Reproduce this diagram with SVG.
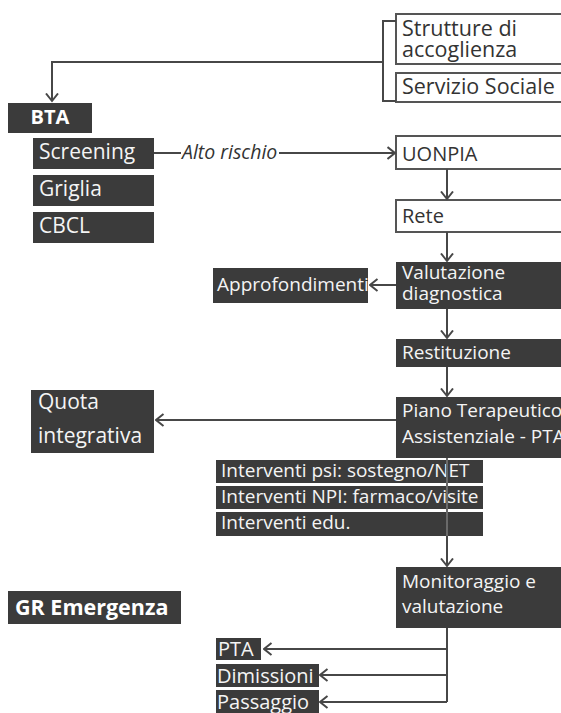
<svg xmlns="http://www.w3.org/2000/svg" width="561" height="713" viewBox="0 0 561 713">
<defs>
<marker id="arr" viewBox="0 0 10 14" refX="8.5" refY="7" markerWidth="10" markerHeight="14" markerUnits="userSpaceOnUse" orient="auto">
<path d="M1,1 L8.5,7 L1,13" fill="none" stroke="#474747" stroke-width="2"/>
</marker>
<style>
.dark{fill:#3b3b3b;}
.light{fill:#ffffff;stroke:#555555;stroke-width:2;}
.tw{fill:#f4f4f4;font-family:"Open Sans","DejaVu Sans",sans-serif;font-size:19px;}
.td{fill:#333333;font-family:"Open Sans","DejaVu Sans",sans-serif;font-size:20px;}
.tb{fill:#ffffff;font-family:"Open Sans","DejaVu Sans",sans-serif;font-size:20px;font-weight:bold;}
.ti{fill:#333333;font-family:"Open Sans","DejaVu Sans",sans-serif;font-size:19.5px;font-style:italic;}
.c{fill:none;stroke:#474747;stroke-width:2;}
.ca{fill:none;stroke:#474747;stroke-width:2;marker-end:url(#arr);}
</style>
</defs>
<rect width="561" height="713" fill="#ffffff"/>

<g id="strutture">
<rect class="light" x="396" y="14" width="175" height="50"/>
<text class="td" x="402" y="36" style="font-size:21.5px">Strutture di</text>
<text class="td" x="402" y="57" style="font-size:21.5px">accoglienza</text>
</g>
<g id="servizio">
<rect class="light" x="396" y="73" width="175" height="29"/>
<text class="td" x="402" y="94" style="font-size:21.5px">Servizio Sociale</text>
</g>
<g id="bta">
<rect class="dark" x="8" y="103" width="84" height="30"/>
<text class="tb" x="50" y="124" text-anchor="middle">BTA</text>
</g>
<g id="screening">
<rect class="dark" x="33" y="138" width="121" height="31"/>
<text class="tw" x="39" y="159" style="font-size:21px">Screening</text>
</g>
<g id="griglia">
<rect class="dark" x="33" y="175" width="121" height="31"/>
<text class="tw" x="39" y="196" style="font-size:21px">Griglia</text>
</g>
<g id="cbcl">
<rect class="dark" x="33" y="212" width="121" height="31"/>
<text class="tw" x="39" y="233" style="font-size:21px">CBCL</text>
</g>
<g id="uonpia">
<rect class="light" x="396" y="136" width="175" height="33"/>
<text class="td" x="402" y="161">UONPIA</text>
</g>
<g id="rete">
<rect class="light" x="396" y="200" width="175" height="32"/>
<text class="td" x="402" y="223">Rete</text>
</g>
<g id="valutazione">
<rect class="dark" x="396" y="262" width="175" height="47"/>
<text class="tw" x="402" y="279">Valutazione</text>
<text class="tw" x="402" y="300">diagnostica</text>
</g>
<g id="approfondimenti">
<rect class="dark" x="213" y="268" width="155" height="35"/>
<text class="tw" x="217" y="291">Approfondimenti</text>
</g>
<g id="restituzione">
<rect class="dark" x="396" y="339" width="175" height="28"/>
<text class="tw" x="402" y="359">Restituzione</text>
</g>
<g id="piano">
<rect class="dark" x="396" y="397" width="175" height="61"/>
<text class="tw" x="402" y="417">Piano Terapeutico</text>
<text class="tw" x="402" y="443">Assistenziale - PTA</text>
</g>
<g id="quota">
<rect class="dark" x="31" y="390" width="123" height="63"/>
<text class="tw" x="38" y="409" style="font-size:21px">Quota</text>
<text class="tw" x="38" y="443" style="font-size:21px">integrativa</text>
</g>
<g id="int-psi">
<rect class="dark" x="216" y="460" width="267" height="23"/>
<text class="tw" x="221" y="477">Interventi psi: sostegno/NET</text>
</g>
<g id="int-npi">
<rect class="dark" x="216" y="486" width="267" height="23"/>
<text class="tw" x="221" y="503">Interventi NPI: farmaco/visite</text>
</g>
<g id="int-edu">
<rect class="dark" x="216" y="512" width="267" height="24"/>
<text class="tw" x="221" y="529">Interventi edu.</text>
</g>
<g id="monitoraggio">
<rect class="dark" x="396" y="567" width="175" height="61"/>
<text class="tw" x="402" y="588">Monitoraggio e</text>
<text class="tw" x="402" y="613">valutazione</text>
</g>
<g id="gr-emergenza">
<rect class="dark" x="8" y="591" width="173" height="33"/>
<text class="tb" x="15" y="615" style="font-size:21.5px">GR Emergenza</text>
</g>
<g id="pta">
<rect class="dark" x="216" y="638" width="45" height="22"/>
<text class="tw" x="218" y="656" style="font-size:20px">PTA</text>
</g>
<g id="dimissioni">
<rect class="dark" x="216" y="664" width="103" height="23"/>
<text class="tw" x="217" y="683" style="font-size:20px">Dimissioni</text>
</g>
<g id="passaggio">
<rect class="dark" x="216" y="690" width="103" height="23"/>
<text class="tw" x="217" y="709" style="font-size:20px">Passaggio</text>
</g>

<g id="connectors">
<polyline class="c" points="396,21 383,21 383,101 396,101"/>
<polyline class="ca" points="383,62 52,62 52,101"/>
<line class="c" x1="154" y1="153" x2="181" y2="153"/>
<text class="ti" x="182" y="159">Alto rischio</text>
<line class="ca" x1="279" y1="153" x2="395" y2="153"/>
<line class="ca" x1="447" y1="169" x2="447" y2="199"/>
<line class="ca" x1="447" y1="232" x2="447" y2="261"/>
<line class="ca" x1="396" y1="285" x2="370" y2="285"/>
<line class="ca" x1="447" y1="309" x2="447" y2="338"/>
<line class="ca" x1="447" y1="367" x2="447" y2="396"/>
<line class="ca" x1="396" y1="420" x2="156" y2="420"/>
<line x1="447" y1="458" x2="447" y2="536" stroke="#6a6a6a" stroke-width="2"/>
<line class="ca" x1="447" y1="536" x2="447" y2="566"/>
<polyline class="c" points="447,628 447,702"/>
<line class="ca" x1="447" y1="649" x2="264" y2="649"/>
<line class="ca" x1="447" y1="675" x2="320" y2="675"/>
<line class="ca" x1="447" y1="702" x2="320" y2="702"/>
</g>
</svg>
